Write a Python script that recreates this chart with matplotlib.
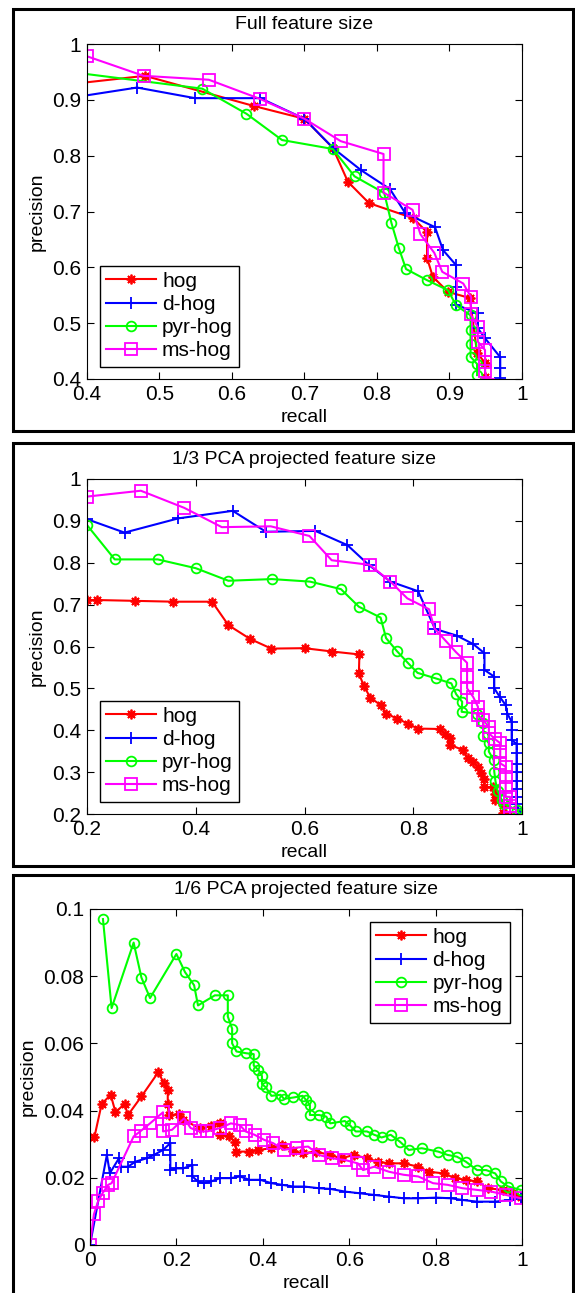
import matplotlib.pyplot as plt
from matplotlib.patches import Rectangle

plt.rcParams['font.family'] = ['Liberation Sans', 'DejaVu Sans']

# ---- panel 1: full feature size ----
p1_hog_r = [0.30, 0.48, 0.63, 0.70, 0.739, 0.76, 0.789, 0.85, 0.869, 0.869, 0.877, 0.898, 0.928, 0.938, 0.949, 0.949, 0.952]
p1_hog_p = [0.917, 0.943, 0.889, 0.866, 0.814, 0.753, 0.715, 0.688, 0.663, 0.617, 0.583, 0.556, 0.545, 0.447, 0.429, 0.404, 0.39]
p1_dhog_r = [0.30, 0.469, 0.549, 0.639, 0.70, 0.74, 0.778, 0.818, 0.839, 0.88, 0.891, 0.909, 0.909, 0.909, 0.939, 0.939, 0.949, 0.97, 0.97, 0.97]
p1_dhog_p = [0.888, 0.922, 0.903, 0.903, 0.866, 0.813, 0.774, 0.740, 0.697, 0.672, 0.631, 0.604, 0.565, 0.533, 0.518, 0.491, 0.473, 0.439, 0.42, 0.402]
p1_pyr_r = [0.30, 0.559, 0.62, 0.669, 0.739, 0.769, 0.81, 0.82, 0.83, 0.84, 0.869, 0.898, 0.909, 0.929, 0.929, 0.929, 0.929, 0.938, 0.938]
p1_pyr_p = [0.9625, 0.92, 0.875, 0.828, 0.812, 0.763, 0.733, 0.679, 0.635, 0.597, 0.577, 0.559, 0.532, 0.514, 0.488, 0.463, 0.44, 0.427, 0.407]
p1_ms_r = [0.40, 0.478, 0.568, 0.638, 0.70, 0.75, 0.809, 0.809, 0.849, 0.86, 0.879, 0.89, 0.919, 0.93, 0.929, 0.939, 0.939, 0.949, 0.949, 0.949, 0.953]
p1_ms_p = [0.978, 0.943, 0.936, 0.902, 0.866, 0.826, 0.803, 0.734, 0.703, 0.659, 0.626, 0.592, 0.571, 0.546, 0.516, 0.493, 0.467, 0.452, 0.431, 0.414, 0.39]

# ---- panel 2: 1/3 PCA ----
p2_hog_r = [0.2, 0.218, 0.289, 0.359, 0.43, 0.46, 0.5, 0.539, 0.6, 0.651, 0.701, 0.70, 0.709, 0.721, 0.74, 0.75,
            0.77, 0.79, 0.808, 0.849, 0.858, 0.868, 0.868, 0.891, 0.90, 0.91, 0.919, 0.924, 0.93, 0.93, 0.947,
            0.95, 0.95, 0.965, 0.965, 0.974]
p2_hog_p = [0.711, 0.711, 0.709, 0.707, 0.707, 0.651, 0.618, 0.595, 0.596, 0.588, 0.581, 0.536, 0.506, 0.478, 0.46, 0.44,
            0.428, 0.416, 0.404, 0.403, 0.391, 0.381, 0.365, 0.353, 0.333, 0.325, 0.312, 0.297, 0.283, 0.264, 0.264,
            0.248, 0.233, 0.221, 0.202, 0.195]
p2_dhog_r = [0.2, 0.269, 0.368, 0.468, 0.529, 0.62, 0.679, 0.718, 0.758, 0.809, 0.84, 0.88, 0.91, 0.931, 0.931,
             0.949, 0.949, 0.959, 0.97, 0.973, 0.981, 0.981, 0.981, 0.99, 0.99, 0.99, 0.99, 0.99, 0.99, 0.99, 0.99, 0.998]
p2_dhog_p = [0.904, 0.872, 0.906, 0.924, 0.874, 0.876, 0.842, 0.795, 0.755, 0.732, 0.642, 0.626, 0.606, 0.584, 0.544,
             0.528, 0.5, 0.48, 0.46, 0.44, 0.42, 0.40, 0.376, 0.368, 0.345, 0.32, 0.30, 0.28, 0.26, 0.24, 0.225, 0.2]
p2_pyr_r = [0.2, 0.251, 0.33, 0.40, 0.46, 0.54, 0.61, 0.667, 0.70, 0.74, 0.75, 0.77, 0.79, 0.808, 0.841, 0.87,
            0.879, 0.89, 0.889, 0.917, 0.929, 0.929, 0.939, 0.939, 0.948, 0.949, 0.951, 0.955, 0.963, 0.966, 0.991, 0.995]
p2_pyr_p = [0.89, 0.808, 0.808, 0.787, 0.757, 0.761, 0.755, 0.737, 0.695, 0.669, 0.62, 0.589, 0.561, 0.537, 0.524, 0.512,
            0.486, 0.468, 0.444, 0.44, 0.418, 0.386, 0.369, 0.349, 0.329, 0.301, 0.28, 0.255, 0.233, 0.225, 0.209, 0.201]
p2_ms_r = [0.2, 0.299, 0.379, 0.448, 0.538, 0.609, 0.65, 0.72, 0.758, 0.789, 0.829, 0.839, 0.86, 0.879, 0.899, 0.899,
           0.899, 0.91, 0.919, 0.919, 0.929, 0.939, 0.939, 0.951, 0.96, 0.96, 0.96, 0.97, 0.97, 0.97, 0.97, 0.978, 0.978, 0.978]
p2_ms_p = [0.958, 0.972, 0.931, 0.885, 0.887, 0.864, 0.806, 0.795, 0.755, 0.715, 0.689, 0.643, 0.613, 0.586, 0.561, 0.528,
           0.50, 0.48, 0.456, 0.436, 0.424, 0.408, 0.393, 0.378, 0.369, 0.349, 0.321, 0.313, 0.289, 0.265, 0.241, 0.241, 0.22, 0.2]

# ---- panel 3: 1/6 PCA ----
p3_hog_r = [0.01, 0.027, 0.048, 0.059, 0.08, 0.088, 0.119, 0.158, 0.171, 0.18, 0.18, 0.182, 0.207, 0.216, 0.254, 0.28,
            0.301, 0.301, 0.322, 0.335, 0.339, 0.369, 0.39, 0.42, 0.445, 0.471, 0.492, 0.522, 0.556, 0.581, 0.611,
            0.641, 0.666, 0.692, 0.726, 0.76, 0.785, 0.819, 0.845, 0.87, 0.896, 0.921, 0.955, 0.98, 0.997]
p3_hog_p = [0.032, 0.042, 0.0447, 0.0395, 0.042, 0.0387, 0.0442, 0.0514, 0.0482, 0.046, 0.0419, 0.0387, 0.0389, 0.0372,
            0.0348, 0.0353, 0.0362, 0.0328, 0.0323, 0.0308, 0.0278, 0.0278, 0.0283, 0.0288, 0.0298, 0.028, 0.0273,
            0.0278, 0.0268, 0.0258, 0.0268, 0.0258, 0.0248, 0.0243, 0.0243, 0.0233, 0.0218, 0.0213, 0.0199, 0.0194,
            0.0189, 0.0169, 0.0164, 0.0154, 0.0144]
p3_dhog_r = [0.0, 0.039, 0.046, 0.067, 0.071, 0.088, 0.105, 0.131, 0.148, 0.169, 0.186, 0.186, 0.186, 0.199, 0.216,
             0.237, 0.237, 0.25, 0.263, 0.28, 0.301, 0.326, 0.347, 0.369, 0.394, 0.42, 0.445, 0.471, 0.496, 0.53,
             0.556, 0.59, 0.624, 0.658, 0.692, 0.726, 0.76, 0.802, 0.836, 0.862, 0.896, 0.938, 0.972, 0.997]
p3_dhog_p = [0.0, 0.0268, 0.0214, 0.0258, 0.0233, 0.0233, 0.0248, 0.0258, 0.0268, 0.0283, 0.0303, 0.0268, 0.0223,
             0.0228, 0.0228, 0.0238, 0.0204, 0.0189, 0.0184, 0.0189, 0.0199, 0.0199, 0.0204, 0.0194, 0.0194, 0.0184,
             0.0179, 0.0174, 0.0174, 0.0169, 0.0167, 0.0159, 0.0154, 0.0149, 0.0144, 0.0139, 0.0139, 0.0141, 0.0139,
             0.0134, 0.0129, 0.0129, 0.0134, 0.0139]
p3_pyr_r = [0.03, 0.05, 0.101, 0.119, 0.139, 0.2, 0.22, 0.241, 0.25, 0.289, 0.319, 0.319, 0.329, 0.329, 0.339, 0.36,
            0.379, 0.379, 0.39, 0.398, 0.398, 0.407, 0.42, 0.441, 0.449, 0.471, 0.492, 0.50, 0.509, 0.509, 0.53,
            0.547, 0.556, 0.59, 0.602, 0.615, 0.641, 0.658, 0.675, 0.696, 0.717, 0.738, 0.768, 0.806, 0.828,
            0.849, 0.87, 0.896, 0.917, 0.938, 0.951, 0.968, 0.997]
p3_pyr_p = [0.097, 0.0705, 0.090, 0.0796, 0.0735, 0.0866, 0.0812, 0.0773, 0.0713, 0.0743, 0.0743, 0.068, 0.0644, 0.060,
            0.0576, 0.0571, 0.0568, 0.0534, 0.0521, 0.0503, 0.0479, 0.0469, 0.0444, 0.0447, 0.0435, 0.0439, 0.0444,
            0.0432, 0.0417, 0.0387, 0.0387, 0.0382, 0.0362, 0.0369, 0.0356, 0.0338, 0.0338, 0.0328, 0.032, 0.0328,
            0.0308, 0.0283, 0.0288, 0.0278, 0.0268, 0.0263, 0.0248, 0.0223, 0.0223, 0.0213, 0.0189, 0.0174, 0.0164]
p3_ms_r = [0.0, 0.009, 0.019, 0.029, 0.042, 0.05, 0.101, 0.118, 0.139, 0.169, 0.169, 0.19, 0.218, 0.233, 0.254, 0.271,
           0.301, 0.326, 0.347, 0.36, 0.381, 0.403, 0.424, 0.449, 0.479, 0.505, 0.53, 0.56, 0.59, 0.62, 0.632,
           0.658, 0.692, 0.726, 0.76, 0.794, 0.828, 0.862, 0.896, 0.929, 0.963, 0.997]
p3_ms_p = [0.0, 0.0091, 0.0131, 0.0154, 0.0179, 0.0184, 0.0323, 0.034, 0.0362, 0.0395, 0.0338, 0.0343, 0.0377, 0.0348,
           0.0338, 0.0338, 0.0348, 0.0362, 0.0357, 0.0338, 0.0328, 0.0313, 0.0303, 0.0283, 0.029, 0.0293, 0.0268,
           0.0258, 0.0253, 0.0243, 0.0223, 0.0233, 0.0218, 0.0209, 0.0204, 0.0184, 0.0179, 0.0169, 0.0164, 0.0159,
           0.0149, 0.0139]

labels = ['hog', 'd-hog', 'pyr-hog', 'ms-hog']
colors = ['#ff0000', '#0000ff', '#00ff00', '#ff00ff']
markers = [(8, 2, 0), '+', 'o', 's']
msizes = [7, 9, 7, 8]

panels = [
    dict(title='Full feature size', data=[(p1_hog_r, p1_hog_p), (p1_dhog_r, p1_dhog_p), (p1_pyr_r, p1_pyr_p), (p1_ms_r, p1_ms_p)],
         xlim=(0.4, 1), ylim=(0.4, 1), xt=[0.4, 0.5, 0.6, 0.7, 0.8, 0.9, 1], yt=[0.4, 0.5, 0.6, 0.7, 0.8, 0.9, 1],
         xtl=['0.4', '0.5', '0.6', '0.7', '0.8', '0.9', '1'], ytl=['0.4', '0.5', '0.6', '0.7', '0.8', '0.9', '1'],
         loc='lower left', ax=[87, 44, 522, 379], box=[13, 9, 573, 431]),
    dict(title='1/3 PCA projected feature size', data=[(p2_hog_r, p2_hog_p), (p2_dhog_r, p2_dhog_p), (p2_pyr_r, p2_pyr_p), (p2_ms_r, p2_ms_p)],
         xlim=(0.2, 1), ylim=(0.2, 1), xt=[0.2, 0.4, 0.6, 0.8, 1], yt=[0.2, 0.3, 0.4, 0.5, 0.6, 0.7, 0.8, 0.9, 1],
         xtl=['0.2', '0.4', '0.6', '0.8', '1'], ytl=['0.2', '0.3', '0.4', '0.5', '0.6', '0.7', '0.8', '0.9', '1'],
         loc='lower left', ax=[87, 479, 522, 814], box=[13, 443, 573, 866]),
    dict(title='1/6 PCA projected feature size', data=[(p3_hog_r, p3_hog_p), (p3_dhog_r, p3_dhog_p), (p3_pyr_r, p3_pyr_p), (p3_ms_r, p3_ms_p)],
         xlim=(0, 1), ylim=(0, 0.1), xt=[0, 0.2, 0.4, 0.6, 0.8, 1], yt=[0, 0.02, 0.04, 0.06, 0.08, 0.1],
         xtl=['0', '0.2', '0.4', '0.6', '0.8', '1'], ytl=['0', '0.02', '0.04', '0.06', '0.08', '0.1'],
         loc='upper right', ax=[90, 909, 522, 1245], box=[13, 875, 573, 1310]),
]

W, H = 575, 1293
fig = plt.figure(figsize=(W / 100, H / 100), dpi=100)

for pn in panels:
    bx = pn['box']
    fig.patches.append(Rectangle((bx[0] / W, 1 - bx[3] / H), (bx[2] - bx[0]) / W, (bx[3] - bx[1]) / H,
                                 transform=fig.transFigure, fill=False, edgecolor='black', linewidth=2.2))
    l, t, r, b = pn['ax']
    ax = fig.add_axes([l / W, 1 - b / H, (r - l) / W, (b - t) / H])
    for (xs, ys), lab, c, m, ms in zip(pn['data'], labels, colors, markers, msizes):
        ax.plot(xs, ys, color=c, marker=m, markersize=ms, markerfacecolor='none', markeredgecolor=c,
                markeredgewidth=1.3, linewidth=1.5, label=lab)
    ax.set_xlim(*pn['xlim'])
    ax.set_ylim(*pn['ylim'])
    ax.set_xticks(pn['xt'])
    ax.set_xticklabels(pn['xtl'])
    ax.set_yticks(pn['yt'])
    ax.set_yticklabels(pn['ytl'])
    ax.tick_params(direction='in', top=True, right=True, length=5, labelsize=15, pad=4)
    ax.set_title(pn['title'], fontsize=14, pad=11)
    ax.set_xlabel('recall', fontsize=14, labelpad=4)
    ax.set_ylabel('precision', fontsize=14, labelpad=5)
    leg = ax.legend(loc=pn['loc'], fontsize=15, fancybox=False, framealpha=1, edgecolor='black',
                    handlelength=2.4, handletextpad=0.3, labelspacing=0.2, borderpad=0.3, borderaxespad=0.6)
    leg.get_frame().set_linewidth(1.0)

fig.savefig('out.png', dpi=100)
